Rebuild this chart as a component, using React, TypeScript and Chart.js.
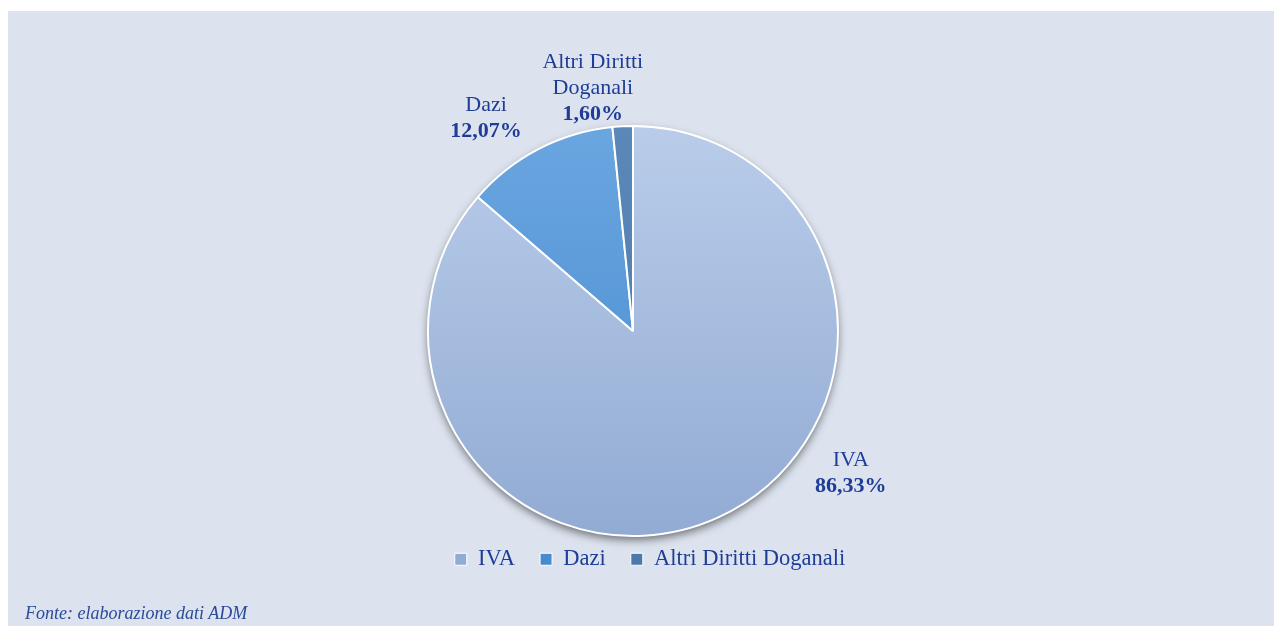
import React, { useEffect, useRef } from "react";
import { Chart, registerables } from "chart.js";

Chart.register(...registerables);

const categories = ["IVA", "Dazi", "Altri Diritti Doganali"];
const labelLines = [["IVA"], ["Dazi"], ["Altri Diritti", "Doganali"]];
const values = [86.33, 12.07, 1.6];
const valueLabels = ["86,33%", "12,07%", "1,60%"];
const sourceNote = "Fonte: elaborazione dati ADM";

const FONT = "'Liberation Serif', 'Times New Roman', serif";
const TEXT = "#1f3d97";
const colorTop = ["#b9cdea", "#6aa6e0", "#5b88b8"];
const colorBottom = ["#92abd3", "#478ace", "#4a79ab"];
// label placement: angle (deg, clockwise from top) and distance factor of radius
const labelAngle = [123.2, 325.4, 350.6];
const labelDist = [1.27, 1.262, 1.2];

const shadowPlugin = {
  id: "pieShadow",
  beforeDatasetsDraw(chart: any) {
    const arc = chart.getDatasetMeta(0).data[0];
    if (!arc) return;
    const ctx = chart.ctx;
    ctx.save();
    ctx.shadowColor = "rgba(0,0,0,0.5)";
    ctx.shadowBlur = 9;
    ctx.shadowOffsetY = 4;
    ctx.fillStyle = "#9fb5da";
    ctx.beginPath();
    ctx.arc(arc.x, arc.y, arc.outerRadius, 0, Math.PI * 2);
    ctx.fill();
    ctx.restore();
  },
};

const labelPlugin = {
  id: "outLabels",
  afterDatasetsDraw(chart: any) {
    const meta = chart.getDatasetMeta(0);
    const ctx = chart.ctx;
    ctx.save();
    ctx.textAlign = "center";
    ctx.textBaseline = "middle";
    ctx.fillStyle = TEXT;
    meta.data.forEach((arc: any, i: number) => {
      const a = (labelAngle[i] * Math.PI) / 180;
      const r = arc.outerRadius * labelDist[i];
      const cx = arc.x + Math.sin(a) * r;
      const cy = arc.y - Math.cos(a) * r;
      const lines = labelLines[i];
      const lh = 26.5;
      const total = lines.length + 1;
      let y = cy - ((total - 1) * lh) / 2;
      ctx.font = `22px ${FONT}`;
      lines.forEach((l) => {
        ctx.fillText(l, cx, y);
        y += lh;
      });
      ctx.font = `bold 22px ${FONT}`;
      ctx.fillText(valueLabels[i], cx, y);
    });
    ctx.restore();
  },
};

export default function App() {
  const ref = useRef<HTMLCanvasElement>(null);
  useEffect(() => {
    if (!ref.current) return;
    const chart = new Chart(ref.current, {
      type: "pie",
      data: {
        labels: categories,
        datasets: [
          {
            data: values,
            radius: 205,
            borderColor: "#ffffff",
            borderWidth: 2,
            backgroundColor: (c: any) => {
              const ch = c.chart;
              const area = ch.chartArea;
              const i = c.dataIndex;
              if (!area) return colorTop[i];
              const cy = (area.top + area.bottom) / 2;
              const g = ch.ctx.createLinearGradient(0, cy - 205, 0, cy + 205);
              g.addColorStop(0, colorTop[i]);
              g.addColorStop(1, colorBottom[i]);
              return g;
            },
          } as any,
        ],
      },
      options: {
        animation: false,
        responsive: false,
        layout: { padding: { top: 128, bottom: 45.5, left: 18, right: 0 } },
        plugins: {
          tooltip: { enabled: false },
          title: {
            display: true,
            position: "right",
            text: " ",
            color: "rgba(0,0,0,0)",
            font: { size: 10, lineHeight: 1.2 },
            padding: 11,
          },
          legend: {
            position: "bottom",
            labels: {
              boxWidth: 12,
              boxHeight: 12,
              padding: 25,
              color: TEXT,
              font: { family: FONT, size: 22.5 },
              generateLabels: () =>
                categories.map((c, i) => ({
                  text: c,
                  fillStyle: colorBottom[i],
                  strokeStyle: "#ffffff",
                  lineWidth: 1,
                  hidden: false,
                  index: i,
                  fontColor: TEXT,
                })),
            },
          },
        },
      },
      plugins: [shadowPlugin, labelPlugin],
    });
    return () => chart.destroy();
  }, []);
  return (
    <div
      style={{
        position: "fixed",
        left: 8,
        top: 11,
        width: 1266,
        height: 615,
        background: "#dce3ee",
      }}
    >
      <canvas ref={ref} width={1266} height={615} style={{ display: "block" }} />
      <div
        style={{
          position: "absolute",
          left: 17,
          top: 592,
          fontFamily: FONT,
          fontStyle: "italic",
          fontSize: 18,
          color: "#2a4a9a",
          whiteSpace: "nowrap",
        }}
      >
        {sourceNote}
      </div>
    </div>
  );
}
